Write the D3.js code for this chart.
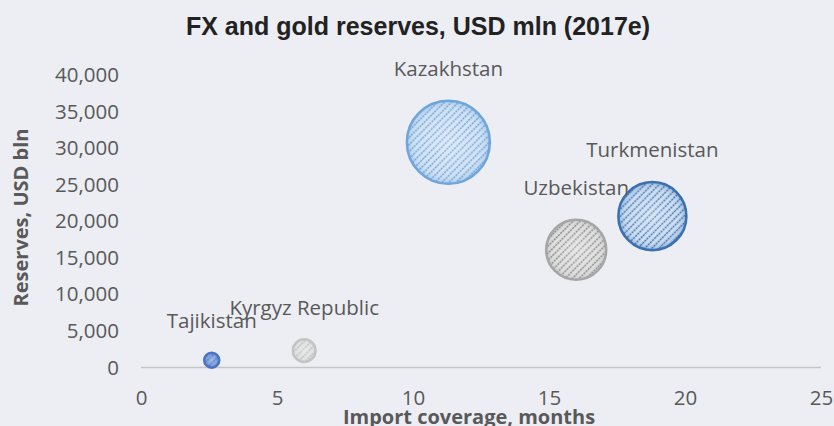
<!DOCTYPE html>
<html><head><meta charset="utf-8">
<script src="https://cdn.jsdelivr.net/npm/d3@7/dist/d3.min.js"></script>
<style>
html,body{margin:0;padding:0;background:#ECEEF3;}
svg{display:block;}
</style></head>
<body>
<svg id="chart" width="834" height="426"></svg>
<script>
// ---- data ----
const countries = ["Kazakhstan", "Turkmenistan", "Uzbekistan", "Kyrgyz Republic", "Tajikistan"];
const importCoverage = [11.3, 18.8, 16.0, 6.0, 2.6];        // months
const reserves = [30800, 20700, 16100, 2300, 1000];          // USD mln
const bubbleSize = [30800, 20700, 16100, 2300, 1000];
const xTicks = [0, 5, 10, 15, 20, 25];
const yTicks = [0, 5000, 10000, 15000, 20000, 25000, 30000, 35000, 40000];
const title = "FX and gold reserves, USD mln (2017e)";
const xTitle = "Import coverage, months";
const yTitle = "Reserves, USD bln";

// styles per bubble (base fill, stripe, border)
const styles = [
  {base: "#CFE0F3", stripe: "#5B9BD5", border: "#6FA5DA"},
  {base: "#C6DAF0", stripe: "#2F64A8", border: "#3A70B0"},
  {base: "#DCDCDC", stripe: "#7A7A7A", border: "#A6A6A6"},
  {base: "#DEDEDE", stripe: "#B4B4B4", border: "#C4C4C4"},
  {base: "#6F93D6", stripe: "#3A64B8", border: "#4A72C4"}
];

const svg = d3.select("#chart");
const W = 834, H = 426;
svg.append("rect").attr("width", W).attr("height", H).attr("fill", "#ECEEF3");

const x = d3.scaleLinear().domain([0, 25]).range([141, 821]);
const y = d3.scaleLinear().domain([0, 40000]).range([367.5, 75]);
const r = d3.scaleSqrt().domain([0, d3.max(bubbleSize)]).range([0, 41.5]);

const defs = svg.append("defs");
styles.forEach((s, i) => {
  const p = defs.append("pattern").attr("id", "pat" + i)
    .attr("patternUnits", "userSpaceOnUse").attr("width", 6).attr("height", 5)
    .attr("patternTransform", "rotate(-45)");
  p.append("rect").attr("width", 6).attr("height", 5).attr("fill", s.base);
  p.append("line").attr("x1", 0).attr("x2", 6).attr("y1", 1.5).attr("y2", 1.5)
    .attr("stroke", s.stripe).attr("stroke-width", 1.6).attr("stroke-dasharray", "2.2 0.8");
  const g = defs.append("radialGradient").attr("id", "grad" + i)
    .attr("cx", "50%").attr("cy", "50%").attr("r", "50%");
  g.append("stop").attr("offset", "0%").attr("stop-color", "#ffffff").attr("stop-opacity", 0.35);
  g.append("stop").attr("offset", "75%").attr("stop-color", "#ffffff").attr("stop-opacity", 0.12);
  g.append("stop").attr("offset", "100%").attr("stop-color", s.border).attr("stop-opacity", 0.35);
});

// title
svg.append("text").attr("x", 418).attr("y", 35).attr("text-anchor", "middle")
  .attr("font-family", "Liberation Sans, Arial, sans-serif").attr("font-weight", "bold")
  .attr("font-size", 25).attr("fill", "#222").text(title);

// x axis line
svg.append("line").attr("x1", x(0)).attr("x2", x(25)).attr("y1", y(0)).attr("y2", y(0))
  .attr("stroke", "#C6C6C6").attr("stroke-width", 1.5);

const font = "'Open Sans', sans-serif";
// y tick labels
const yAxis = d3.axisLeft(y).tickValues(yTicks).tickSize(0).tickPadding(0)
  .tickFormat(d3.format(","));
const ga = svg.append("g").attr("transform", "translate(119,0)").call(yAxis);
ga.select(".domain").remove();
ga.selectAll("text").attr("font-family", font).attr("font-size", 20.5).attr("fill", "#595959");

// x tick labels
const xAxis = d3.axisBottom(x).tickValues(xTicks).tickSize(0).tickPadding(0);
const gx = svg.append("g").attr("transform", "translate(0,390)").call(xAxis);
gx.select(".domain").remove();
gx.selectAll("text").attr("font-family", font).attr("font-size", 20.5).attr("fill", "#595959");

// axis titles
svg.append("text").attr("x", 469).attr("y", 424).attr("text-anchor", "middle")
  .attr("font-family", font).attr("font-weight", "bold").attr("font-size", 20)
  .attr("fill", "#595959").text(xTitle);
svg.append("text").attr("transform", "translate(28,217.5) rotate(-90)").attr("text-anchor", "middle")
  .attr("font-family", font).attr("font-weight", "bold").attr("font-size", 20)
  .attr("fill", "#595959").text(yTitle);

// bubbles
const data = countries.map((c, i) => ({c, xv: importCoverage[i], yv: reserves[i], s: bubbleSize[i], i}));
const gb = svg.append("g");
data.forEach(d => {
  const cx = x(d.xv), cy = y(d.yv), rr = r(d.s);
  gb.append("circle").attr("cx", cx).attr("cy", cy).attr("r", rr)
    .attr("fill", `url(#pat${d.i})`);
  gb.append("circle").attr("cx", cx).attr("cy", cy).attr("r", rr)
    .attr("fill", `url(#grad${d.i})`)
    .attr("stroke", styles[d.i].border).attr("stroke-width", 2.5);
});
// labels
data.forEach(d => {
  svg.append("text").attr("x", x(d.xv)).attr("y", y(d.yv) - r(d.s) - 1.25 - 23.5)
    .attr("text-anchor", "middle").attr("font-family", font).attr("font-size", 20.5)
    .attr("fill", "#595959").text(d.c);
});
</script>
</body></html>
